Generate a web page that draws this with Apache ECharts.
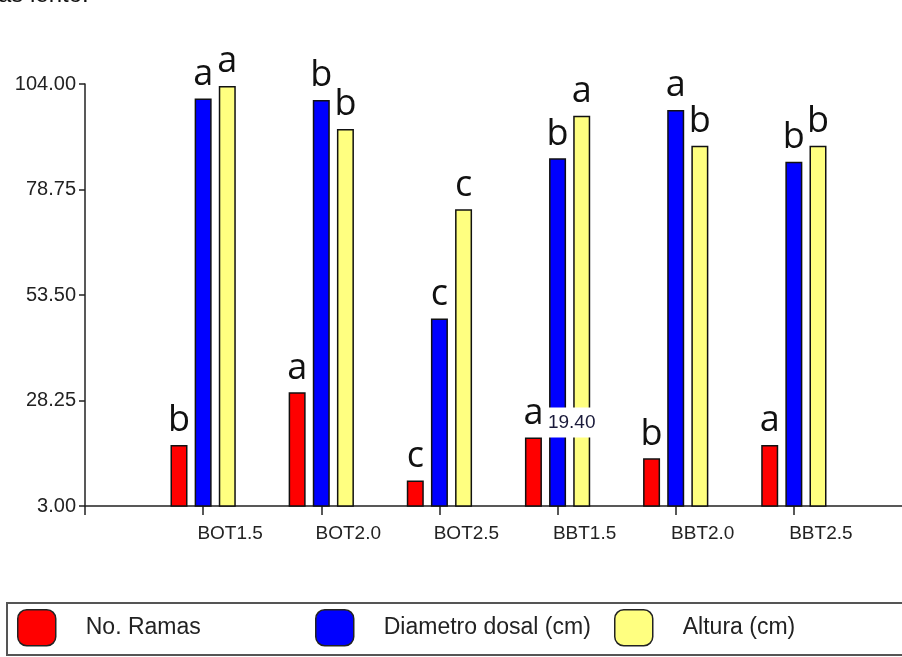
<!DOCTYPE html>
<html>
<head>
<meta charset="utf-8">
<script src="https://cdn.jsdelivr.net/npm/echarts@6/dist/echarts.min.js"></script>
<style>
html,body{margin:0;padding:0;background:#fff;overflow:hidden;}
#c{width:902px;height:657px;}
</style>
</head>
<body>
<div id="c"></div>
<script>
// ---- data ----
const categories = ['BOT1.5', 'BOT2.0', 'BOT2.5', 'BBT1.5', 'BBT2.0', 'BBT2.5'];
const seriesNames = ['No. Ramas', 'Diametro dosal (cm)', 'Altura (cm)'];
const ramas     = [17.6, 30.2, 9.1, 19.4, 14.4, 17.6];
const diametro  = [100.5, 100.2, 47.9, 86.2, 97.8, 85.4];
const altura    = [103.5, 93.2, 74.0, 96.4, 89.2, 89.2];
const ramasLetters    = ['b', 'a', 'c', 'a', 'b', 'a'];
const diametroLetters = ['a', 'b', 'c', 'b', 'a', 'b'];
const alturaLetters   = ['a', 'b', 'c', 'a', 'b', 'b'];
const yTicks = [3.00, 28.25, 53.50, 78.75, 104.00];
const annotatedIndex = 3; // the "19.40" value label

// ---- build ----
const SANS = "'Liberation Sans', Arial, sans-serif";
const LETTER = "'Open Sans', 'DejaVu Sans', sans-serif";
const axisData = [''].concat(categories, ['']);
const pad = arr => [null].concat(arr, [null]);

function barSeries(name, values, letters, color, extra) {
  const s = {
    name: name,
    type: 'bar',
    data: pad(values),
    barWidth: 17,
    barGap: '42%',
    itemStyle: { color: color, borderColor: '#111', borderWidth: 1.5 },
    label: {
      show: true,
      position: 'top',
      distance: 6,
      fontFamily: LETTER,
      fontSize: 36,
      color: '#111',
      formatter: p => letters[p.dataIndex - 1] || ''
    }
  };
  return Object.assign(s, extra || {});
}

const chart = echarts.init(document.getElementById('c'), null, { renderer: 'canvas' });

const legendBase = {
  itemWidth: 38,
  itemHeight: 36,
  icon: 'roundRect',
  top: 609,
  padding: 0,
  itemStyle: { borderColor: '#222', borderWidth: 1.5 },
  textStyle: { fontFamily: SANS, fontSize: 23, color: '#222', padding: [0, 0, 0, 25] }
};

chart.setOption({
  backgroundColor: '#fff',
  animation: false,
  grid: { left: 85, width: 827, top: 84, height: 422, containLabel: false, outerBoundsMode: 'none' },
  xAxis: {
    type: 'category',
    data: axisData,
    boundaryGap: false,
    axisLine: { lineStyle: { color: '#222', width: 1.5 } },
    axisTick: { length: 9, lineStyle: { color: '#222', width: 1.5 } },
    axisLabel: {
      interval: 0,
      align: 'center',
      padding: [0, 0, 0, 54],
      margin: 18,
      fontFamily: SANS,
      fontSize: 19,
      color: '#222'
    },
    splitLine: { show: false }
  },
  yAxis: {
    type: 'value',
    min: yTicks[0],
    max: yTicks[yTicks.length - 1],
    interval: yTicks[1] - yTicks[0],
    axisLine: { show: true, lineStyle: { color: '#222', width: 1.5 } },
    axisTick: { show: true, length: 6, lineStyle: { color: '#222', width: 1.5 } },
    axisLabel: {
      margin: 9,
      fontFamily: SANS,
      fontSize: 20,
      color: '#222',
      formatter: v => v.toFixed(2)
    },
    splitLine: { show: false }
  },
  legend: [
    Object.assign({}, legendBase, { data: [seriesNames[0]], left: 17 }),
    Object.assign({}, legendBase, { data: [seriesNames[1]], left: 315 }),
    Object.assign({}, legendBase, { data: [seriesNames[2]], left: 614 })
  ],
  graphic: [
    {
      type: 'rect',
      shape: { x: 7, y: 603, width: 905, height: 52 },
      style: { fill: 'none', stroke: '#555', lineWidth: 2 },
      silent: true
    },
    {
      type: 'text',
      style: { text: 'as lento.', x: -2, y: -17, font: "24px 'Liberation Sans', Arial", fill: '#111' },
      silent: true
    }
  ],
  series: [
    barSeries(seriesNames[0], ramas, ramasLetters, '#FF0000'),
    barSeries(seriesNames[1], diametro, diametroLetters, '#0000FF'),
    barSeries(seriesNames[2], altura, alturaLetters, '#FFFF80', {
      markPoint: {
        symbol: 'rect',
        symbolSize: 1,
        itemStyle: { color: 'rgba(0,0,0,0)' },
        z: 10,
        data: [{
          coord: [categories[annotatedIndex], ramas[annotatedIndex]],
          value: ramas[annotatedIndex],
          label: {
            show: true,
            position: 'inside',
            offset: [-10, -15],
            formatter: p => Number(p.value).toFixed(2),
            backgroundColor: '#fff',
            padding: [6, 4, 5, 4],
            fontFamily: SANS,
            fontSize: 19,
            color: '#1a1a3a'
          }
        }]
      }
    })
  ]
});
</script>
</body>
</html>
